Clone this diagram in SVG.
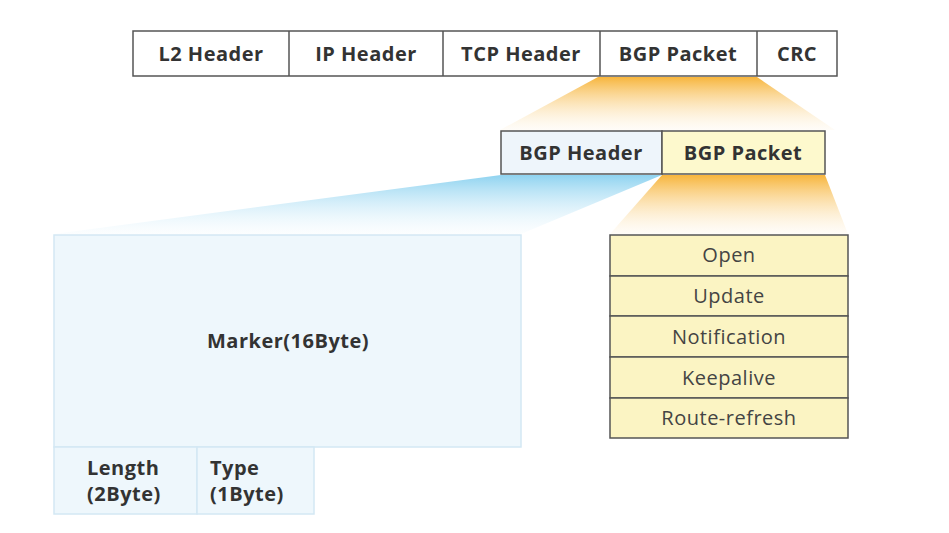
<svg xmlns="http://www.w3.org/2000/svg" width="949" height="533" viewBox="0 0 949 533">
<style>
.cell{fill:#ffffff;stroke:#555;stroke-width:1.5}
.b{font-family:"Open Sans","Liberation Sans",sans-serif;font-weight:bold;font-size:20px;letter-spacing:0.5px;fill:#333;text-anchor:middle}
.r{font-family:"Open Sans","Liberation Sans",sans-serif;font-size:20px;letter-spacing:0.5px;fill:#444;text-anchor:middle}
.s{text-anchor:start}
.msg{fill:#fbf4c3;stroke:#555;stroke-width:1.5}
.lt{fill:#eef7fc;stroke:#d3e8f4;stroke-width:1.5}
</style>
<defs>
<linearGradient id="og" x1="0" y1="0" x2="0" y2="1">
<stop offset="0" stop-color="#f7b53c"/>
<stop offset="1" stop-color="#fdf2dc" stop-opacity="0.2"/>
</linearGradient>
<linearGradient id="bg" x1="0" y1="0" x2="0" y2="1">
<stop offset="0" stop-color="#8fd3f0"/>
<stop offset="1" stop-color="#eef8fd" stop-opacity="0.2"/>
</linearGradient>
</defs>
<rect width="949" height="533" fill="#ffffff"/>
<g id="connectors">
<polygon points="598,77 757,77 835,130 500,130" fill="url(#og)"/>
<polygon points="662,175 825,175 848,234 610,234" fill="url(#og)"/>
<polygon points="501,175 662,175 521,234 54,234" fill="url(#bg)"/>
</g>
<g id="frame">
<rect class="cell" x="133" y="31" width="704" height="45"/>
<line x1="289" y1="31" x2="289" y2="76" stroke="#555" stroke-width="1.5"/>
<line x1="443" y1="31" x2="443" y2="76" stroke="#555" stroke-width="1.5"/>
<line x1="600" y1="31" x2="600" y2="76" stroke="#555" stroke-width="1.5"/>
<line x1="757" y1="31" x2="757" y2="76" stroke="#555" stroke-width="1.5"/>
<text class="b" x="211" y="61">L2 Header</text>
<text class="b" x="366" y="61">IP Header</text>
<text class="b" x="521" y="61">TCP Header</text>
<text class="b" x="678" y="61">BGP Packet</text>
<text class="b" x="797" y="61">CRC</text>
</g>
<g id="bgp-header">
<rect x="501" y="131" width="161" height="43" fill="#eef5fb" stroke="#555" stroke-width="1.5"/>
<text class="b" x="581" y="160">BGP Header</text>
</g>
<g id="bgp-packet">
<rect x="662" y="131" width="163" height="43" fill="#fdf9cd" stroke="#555" stroke-width="1.5"/>
<text class="b" x="743" y="160">BGP Packet</text>
</g>
<g id="marker">
<rect class="lt" x="54" y="235" width="467" height="212"/>
<text class="b" x="288" y="348">Marker(16Byte)</text>
</g>
<g id="length">
<rect class="lt" x="54" y="447" width="143" height="67"/>
<text class="b s" x="87" y="475">Length</text>
<text class="b s" x="87" y="501">(2Byte)</text>
</g>
<g id="type">
<rect class="lt" x="197" y="447" width="117" height="67"/>
<text class="b s" x="210" y="475">Type</text>
<text class="b s" x="210" y="501">(1Byte)</text>
</g>
<g id="open"><rect class="msg" x="610" y="235" width="238" height="41"/><text class="r" x="729" y="262">Open</text></g>
<g id="update"><rect class="msg" x="610" y="276" width="238" height="40"/><text class="r" x="729" y="303">Update</text></g>
<g id="notification"><rect class="msg" x="610" y="316" width="238" height="41"/><text class="r" x="729" y="344">Notification</text></g>
<g id="keepalive"><rect class="msg" x="610" y="357" width="238" height="41"/><text class="r" x="729" y="385">Keepalive</text></g>
<g id="route-refresh"><rect class="msg" x="610" y="398" width="238" height="40"/><text class="r" x="729" y="425">Route-refresh</text></g>
</svg>
